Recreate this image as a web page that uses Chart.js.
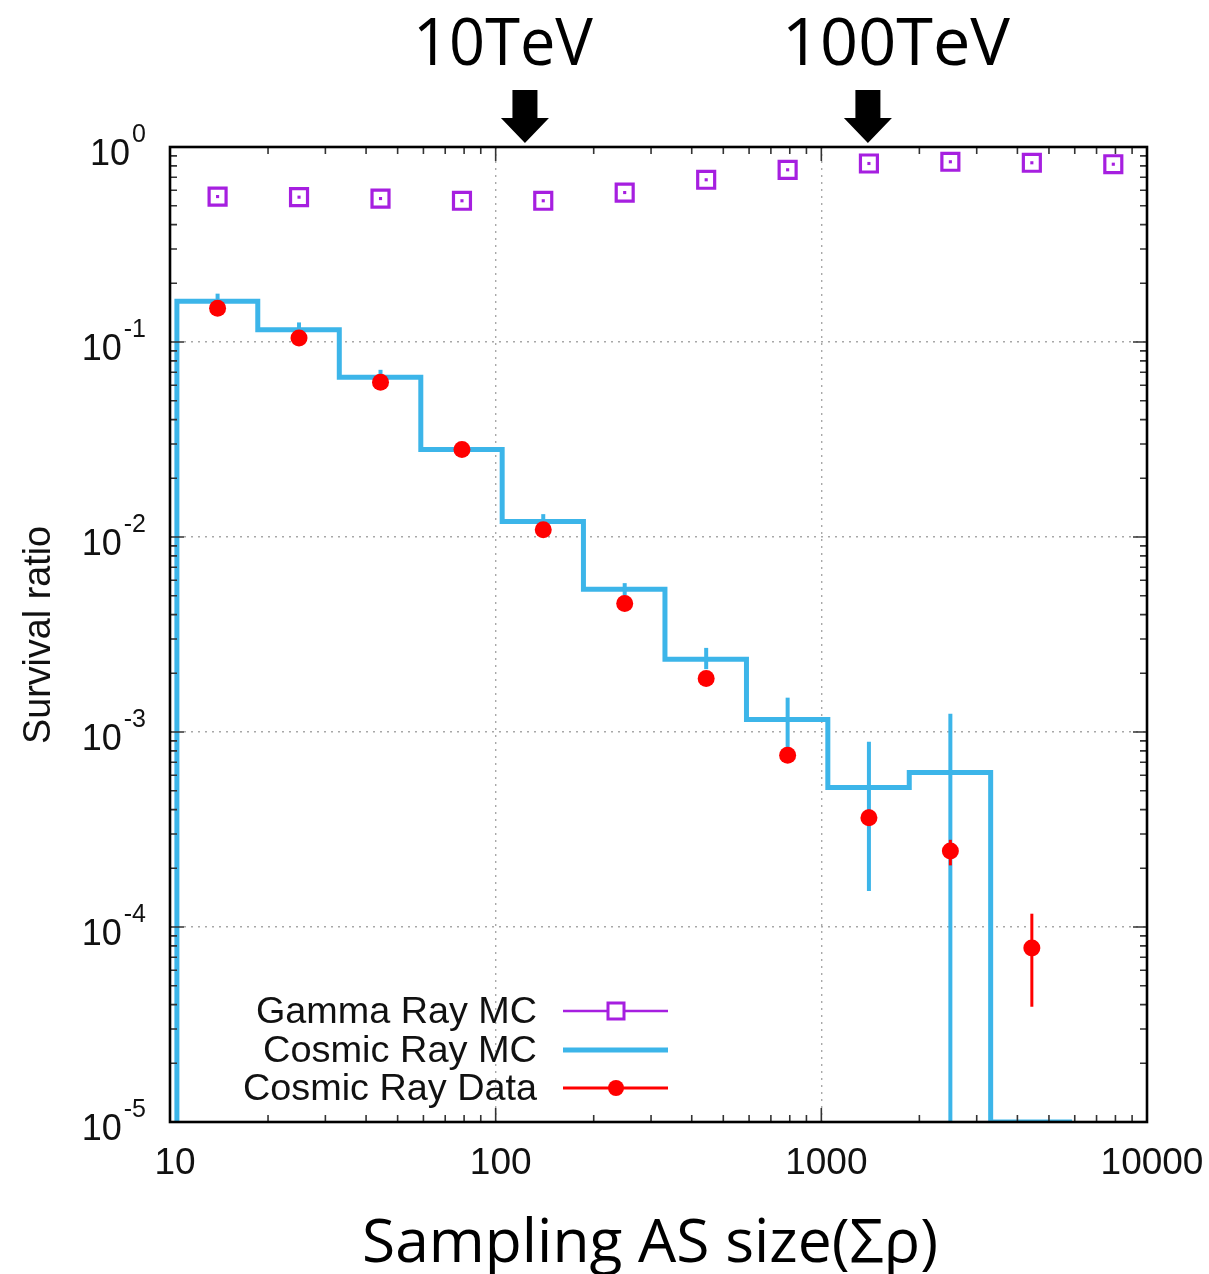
<!DOCTYPE html>
<html>
<head>
<meta charset="utf-8">
<script src="https://cdn.jsdelivr.net/npm/chart.js@4.4.1/dist/chart.umd.min.js"></script>
<style>
  body { margin: 0; background: #fff; }
  #wrap { position: relative; width: 1209px; height: 1274px; }
</style>
</head>
<body>
<div id="wrap"><canvas id="survivalChart"></canvas></div>
<script>
// Survival ratio vs sampling AS size

// bin centres (sum rho), shared by the three series
const binCenters = [14, 24.9, 44.3, 78.8, 140, 249, 443, 788, 1400, 2490, 4430, 7880];
// bin edges of the Cosmic Ray MC histogram
const mcEdges = [10.5, 18.6, 33.1, 58.9, 104.7, 186, 331, 589, 1047, 1862, 3311, 5888];

const gammaMC = [0.557, 0.553, 0.544, 0.530, 0.530, 0.584, 0.679, 0.764, 0.823, 0.840, 0.830, 0.816];

const cosmicMC = [0.162, 0.1155, 0.066, 0.0281, 0.0120, 0.0054, 0.00236, 0.00116, 0.00052, 0.00062, 0.00001];
const cosmicMCLow = [0.150, 0.107, 0.061, 0.026, 0.0111, 0.0050, 0.0021, 0.00083, 0.000153, 0.000001, null];
const cosmicMCHigh = [0.177, 0.126, 0.072, 0.030, 0.0131, 0.0058, 0.0027, 0.0015, 0.00089, 0.00124, null];

const cosmicData = [0.149, 0.1047, 0.0622, 0.0281, 0.0109, 0.00456, 0.00188, 0.00076, 0.000363, 0.000245, 0.000078];
const cosmicDataLow = [null, null, null, null, null, null, null, 0.00071, 0.00033, 0.000207, 0.000039];
const cosmicDataHigh = [null, null, null, null, null, null, null, 0.00082, 0.00040, 0.00028, 0.000117];

const xTicks = [10, 100, 1000, 10000];
const xTickLabels = ['10', '100', '1000', '10000'];
const yTicks = [1, 1e-1, 1e-2, 1e-3, 1e-4, 1e-5];
const yTickExps = ['0', '-1', '-2', '-3', '-4', '-5'];

// energy markers above the plot
const energyMarks = [
  { label: '10TeV', x: 123, textLeft: 413, textWidth: 180 },
  { label: '100TeV', x: 1390, textLeft: 782, textWidth: 228 }
];

const legendLabels = ['Gamma Ray MC', 'Cosmic Ray MC', 'Cosmic Ray Data'];

const PURPLE = '#a61fe0';
const BLUE = '#3cb5e9';
const RED = '#ff0000';
const FONT = '"Liberation Sans", Arial, sans-serif';
const Y_MIN = 1e-5;

// histogram outline as step points (left edges, then the last right edge)
const mcSteps = [{ x: mcEdges[0], y: Y_MIN }];
cosmicMC.forEach((v, i) => mcSteps.push({ x: mcEdges[i], y: v }));
mcSteps.push({ x: mcEdges[mcEdges.length - 1], y: cosmicMC[cosmicMC.length - 1] });

const gammaPoints = gammaMC.map((v, i) => ({ x: binCenters[i], y: v }));
const dataPoints = cosmicData.map((v, i) => ({ x: binCenters[i], y: v }));

function fitText(c, text, x, y, font, width, align) {
  c.save();
  c.font = font;
  const w = c.measureText(text).width;
  c.translate(x, y);
  c.scale(width / w, 1);
  c.textAlign = align;
  c.textBaseline = 'alphabetic';
  c.fillText(text, 0, 0);
  c.restore();
}

function drawErrorBars(chart, low, high, color, width) {
  const c = chart.ctx, xs = chart.scales.x, ys = chart.scales.y, a = chart.chartArea;
  c.save();
  c.beginPath();
  c.rect(a.left, a.top, a.right - a.left, a.bottom - a.top);
  c.clip();
  c.strokeStyle = color;
  c.lineWidth = width;
  low.forEach((lo, i) => {
    if (lo === null) return;
    const px = xs.getPixelForValue(binCenters[i]);
    c.beginPath();
    c.moveTo(px, ys.getPixelForValue(lo));
    c.lineTo(px, ys.getPixelForValue(high[i]));
    c.stroke();
  });
  c.restore();
}

// error bars: blue after the MC histogram, red just before the data dots
const errorBarPlugin = {
  id: 'errorBars',
  afterDatasetDraw(chart, args) {
    if (args.index === 3) drawErrorBars(chart, cosmicMCLow, cosmicMCHigh, BLUE, 4);
  },
  beforeDatasetDraw(chart, args) {
    if (args.index === 0) drawErrorBars(chart, cosmicDataLow, cosmicDataHigh, RED, 3);
  }
};

// frame with inward major/minor ticks like gnuplot
const framePlugin = {
  id: 'frame',
  afterDatasetsDraw(chart) {
    const c = chart.ctx, xs = chart.scales.x, ys = chart.scales.y, a = chart.chartArea;
    c.save();
    c.strokeStyle = '#333';
    c.lineWidth = 1.6;
    c.beginPath();
    for (let k = 1; k < 4; k++) {
      for (let m = 1; m < 10; m++) {
        const px = xs.getPixelForValue(m * Math.pow(10, k));
        const len = m === 1 ? 14 : 7;
        c.moveTo(px, a.bottom); c.lineTo(px, a.bottom - len);
        c.moveTo(px, a.top); c.lineTo(px, a.top + len);
      }
    }
    for (let k = -5; k < 0; k++) {
      for (let m = 1; m < 10; m++) {
        const py = ys.getPixelForValue(m * Math.pow(10, k));
        const len = m === 1 ? 14 : 7;
        c.moveTo(a.left, py); c.lineTo(a.left + len, py);
        c.moveTo(a.right, py); c.lineTo(a.right - len, py);
      }
    }
    c.stroke();
    c.strokeStyle = '#000';
    c.lineWidth = 2.6;
    c.strokeRect(a.left, a.top, a.right - a.left, a.bottom - a.top);
    c.restore();
  }
};

// tick labels, titles, legend and energy arrows
const textPlugin = {
  id: 'texts',
  afterDraw(chart) {
    const c = chart.ctx, xs = chart.scales.x, ys = chart.scales.y, a = chart.chartArea;
    c.save();
    c.fillStyle = '#111';

    // y tick labels 10^n
    yTicks.forEach((v, i) => {
      const py = ys.getPixelForValue(v);
      c.font = '25px ' + FONT;
      const supW = c.measureText(yTickExps[i]).width;
      const right = 146;
      c.textAlign = 'right';
      c.fillText(yTickExps[i], right, py - 5);
      c.font = '36px ' + FONT;
      c.fillText('10', right - supW - 2, py + 18);
    });

    // x tick labels
    c.font = '37px ' + FONT;
    c.textAlign = 'center';
    xTicks.forEach((v, i) => {
      c.fillText(xTickLabels[i], xs.getPixelForValue(v) + 5, 1174);
    });

    // y axis title
    c.save();
    c.translate(50, 635);
    c.rotate(-Math.PI / 2);
    fitText(c, 'Survival ratio', 0, 0, '38px ' + FONT, 218, 'center');
    c.restore();

    // x axis title (slide text)
    c.fillStyle = '#000';
    fitText(c, 'Sampling AS size(\u03A3\u03C1)', 362, 1262, '60px "Open Sans", Lato, sans-serif', 576, 'left');

    // energy labels and arrows
    energyMarks.forEach(mk => {
      fitText(c, mk.label, mk.textLeft, 65, '66px "Open Sans", Lato, sans-serif', mk.textWidth, 'left');
      const px = xs.getPixelForValue(mk.x);
      c.beginPath();
      c.moveTo(px - 12.5, 90);
      c.lineTo(px + 12.5, 90);
      c.lineTo(px + 12.5, 118);
      c.lineTo(px + 24, 118);
      c.lineTo(px, 143);
      c.lineTo(px - 24, 118);
      c.lineTo(px - 12.5, 118);
      c.closePath();
      c.fill();
    });

    // legend
    const rows = [1011, 1050, 1088];
    c.fillStyle = '#111';
    legendLabels.forEach((lab, i) => {
      fitText(c, lab, 537, rows[i] + 12, '36px ' + FONT, i === 2 ? 294 : (i === 1 ? 274 : 281), 'right');
    });
    c.lineCap = 'butt';
    // gamma sample
    c.strokeStyle = PURPLE; c.lineWidth = 2.5;
    c.beginPath(); c.moveTo(563, rows[0]); c.lineTo(668, rows[0]); c.stroke();
    c.fillStyle = '#fff';
    c.fillRect(608, rows[0] - 8, 16, 16);
    c.lineWidth = 3;
    c.strokeRect(608, rows[0] - 8, 16, 16);
    // cosmic MC sample
    c.strokeStyle = BLUE; c.lineWidth = 5;
    c.beginPath(); c.moveTo(563, rows[1]); c.lineTo(668, rows[1]); c.stroke();
    // cosmic data sample
    c.strokeStyle = RED; c.lineWidth = 3;
    c.beginPath(); c.moveTo(563, rows[2]); c.lineTo(668, rows[2]); c.stroke();
    c.fillStyle = RED;
    c.beginPath(); c.arc(616, rows[2], 8, 0, Math.PI * 2); c.fill();

    c.restore();
  }
};

const ctx = document.getElementById('survivalChart').getContext('2d');
const survivalChart = new Chart(ctx, {
  type: 'scatter',
  data: {
    datasets: [
      {
        label: 'Cosmic Ray Data',
        data: dataPoints,
        pointStyle: 'circle',
        pointRadius: 8.5,
        backgroundColor: RED,
        borderWidth: 0,
        showLine: false
      },
      {
        label: 'Gamma Ray MC',
        data: gammaPoints,
        pointStyle: 'rect',
        pointRadius: 12,
        borderColor: PURPLE,
        backgroundColor: 'rgba(0,0,0,0)',
        borderWidth: 3.2,
        showLine: false
      },
      {
        label: 'Gamma Ray MC centre',
        data: gammaPoints,
        pointStyle: 'rect',
        pointRadius: 2.2,
        backgroundColor: PURPLE,
        borderWidth: 0,
        showLine: false
      },
      {
        label: 'Cosmic Ray MC',
        data: mcSteps,
        showLine: true,
        stepped: true,
        borderColor: BLUE,
        borderWidth: 5,
        pointRadius: 0,
        fill: false
      }
    ]
  },
  options: {
    responsive: true,
    maintainAspectRatio: false,
    animation: false,
    layout: { autoPadding: false, padding: { left: 170, top: 147, right: 62, bottom: 152 } },
    plugins: {
      legend: { display: false },
      tooltip: { enabled: false }
    },
    scales: {
      x: {
        type: 'logarithmic',
        min: 10,
        max: 10000,
        afterBuildTicks: axis => { axis.ticks = xTicks.map(v => ({ value: v })); },
        ticks: { display: false },
        grid: { drawTicks: false, color: '#a8a8a8', lineWidth: 1.4 },
        border: { display: false, dash: [2, 5] }
      },
      y: {
        type: 'logarithmic',
        min: 1e-5,
        max: 1,
        afterBuildTicks: axis => { axis.ticks = yTicks.map(v => ({ value: v })); },
        ticks: { display: false },
        grid: { drawTicks: false, color: '#a8a8a8', lineWidth: 1.4 },
        border: { display: false, dash: [2, 5] }
      }
    }
  },
  plugins: [errorBarPlugin, framePlugin, textPlugin]
});
</script>
</body>
</html>
